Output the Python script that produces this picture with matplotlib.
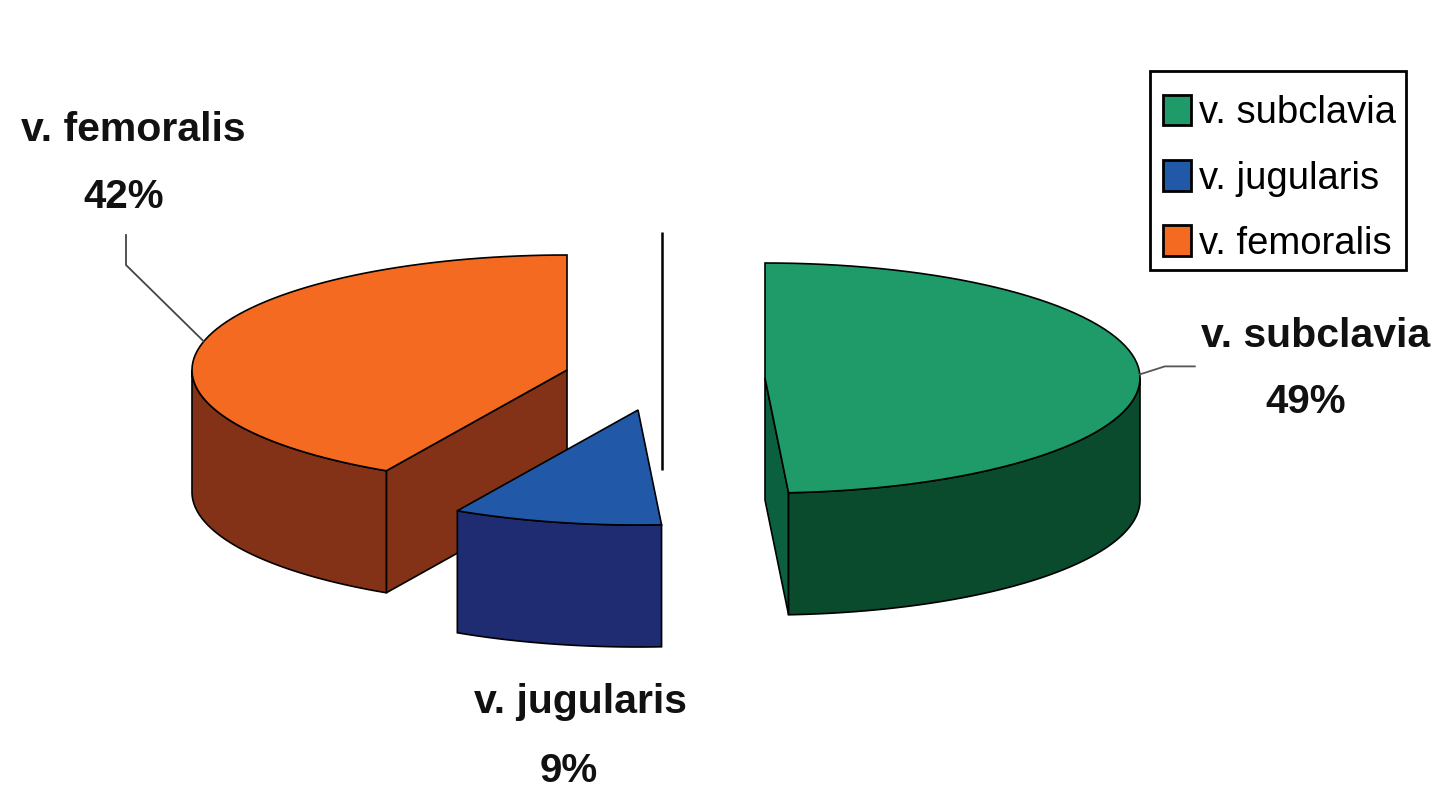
import numpy as np
import matplotlib
matplotlib.use("Agg")
import matplotlib.pyplot as plt
from matplotlib.patches import Polygon, Patch, Rectangle

# Data
names = ["v. subclavia", "v. jugularis", "v. femoralis"]
values = [49, 9, 42]

# Colours: top, outer side, cut side
top_colors = ["#1F9A69", "#2158A8", "#F46A21"]
side_colors = ["#0A4B2E", "#1F2C72", "#843217"]
cut_colors = ["#0B6040", "#1F2C72", "#843217"]

# Pie geometry, in pixels
RX, RY, DEPTH = 375, 115, 122
centers = [(765, 378), (638, 410), (567, 370)]

plt.rcParams["font.family"] = ["Liberation Sans", "DejaVu Sans"]

fig = plt.figure(figsize=(14.31, 8), dpi=100)
ax = fig.add_axes([0, 0, 1, 1])
ax.set_xlim(0, 1431)
ax.set_ylim(800, 0)
ax.axis("off")


def rim(center, a0, a1, n=80):
    # angles in degrees, clockwise from 12 o'clock
    t = np.radians(np.linspace(a0, a1, n))
    return np.column_stack([center[0] + RX * np.sin(t), center[1] - RY * np.cos(t)])


def draw_wedge(i, a0, a1, z):
    c = np.array(centers[i], dtype=float)
    drop = np.array([0, DEPTH])
    # side faces first
    if i == 0:
        p = rim(c, a1, a1, 1)[0]
        face = [c, p, p + drop, c + drop]
        ax.add_patch(Polygon(face, fc=cut_colors[i], ec="black", lw=1.2, zorder=z))
    if i == 2:
        p = rim(c, a0, a0, 1)[0]
        face = [p, c, c + drop, p + drop]
        ax.add_patch(Polygon(face, fc=cut_colors[i], ec="black", lw=1.2, zorder=z))
    lo, hi = max(a0, 90), min(a1, 270)
    if hi > lo:
        arc = rim(c, lo, hi)
        outer = np.vstack([arc, (arc + drop)[::-1]])
        ax.add_patch(Polygon(outer, fc=side_colors[i], ec="black", lw=1.2, zorder=z))
    # top
    top = np.vstack([[c], rim(c, a0, a1)])
    ax.add_patch(Polygon(top, fc=top_colors[i], ec="black", lw=1.2, zorder=z + 0.5))


angles = np.cumsum([0] + values) * 3.6
# orange at the back, blue in front of it, green apart
for z, i in enumerate([2, 1, 0]):
    draw_wedge(i, angles[i], angles[i + 1], z + 1)

# Black stray line from the original
ax.plot([662, 662], [232, 470], color="black", lw=1.8, solid_capstyle="butt", zorder=6)

# Leader lines
mid = (angles[:-1] + angles[1:]) / 2
p = rim(centers[0], mid[0], mid[0], 1)[0]
ax.plot([p[0], p[0] + 25, p[0] + 55], [p[1], p[1] - 8, p[1] - 8], color="#555555", lw=1.3, zorder=6)
p = rim(centers[2], mid[2], mid[2], 1)[0]
ax.plot([p[0], 126, 126], [p[1], 265, 235], color="#444444", lw=1.3, zorder=6)

# Labels
label_pos = [(1316, 336), (580, 702), (133, 130)]
pct_pos = [(1306, 402), (569, 771), (124, 197)]
for i in range(3):
    ax.text(label_pos[i][0], label_pos[i][1], names[i], ha="center", va="center",
            fontsize=29.5, fontweight="bold", color="#111111")
    ax.text(pct_pos[i][0], pct_pos[i][1], "%d%%" % values[i], ha="center", va="center",
            fontsize=29, fontweight="bold", color="#111111")

# Legend, box drawn apart so the rows can sit low in it like the original
ax.add_patch(Rectangle((1150, 71), 256, 199, fc="white", ec="black", lw=2, zorder=7))
handles = [Patch(fc=top_colors[i], ec="black", lw=2, label=names[i]) for i in range(3)]
leg = ax.legend(handles=handles, loc="upper left", bbox_to_anchor=(1150, 82),
                bbox_transform=ax.transData, fontsize=27.5, frameon=False,
                borderpad=0.34, labelspacing=0.75,
                handlelength=0.74, handleheight=0.85, handletextpad=0.2, borderaxespad=0)
leg.set_zorder(8)

fig.savefig("out.png", dpi=100)
